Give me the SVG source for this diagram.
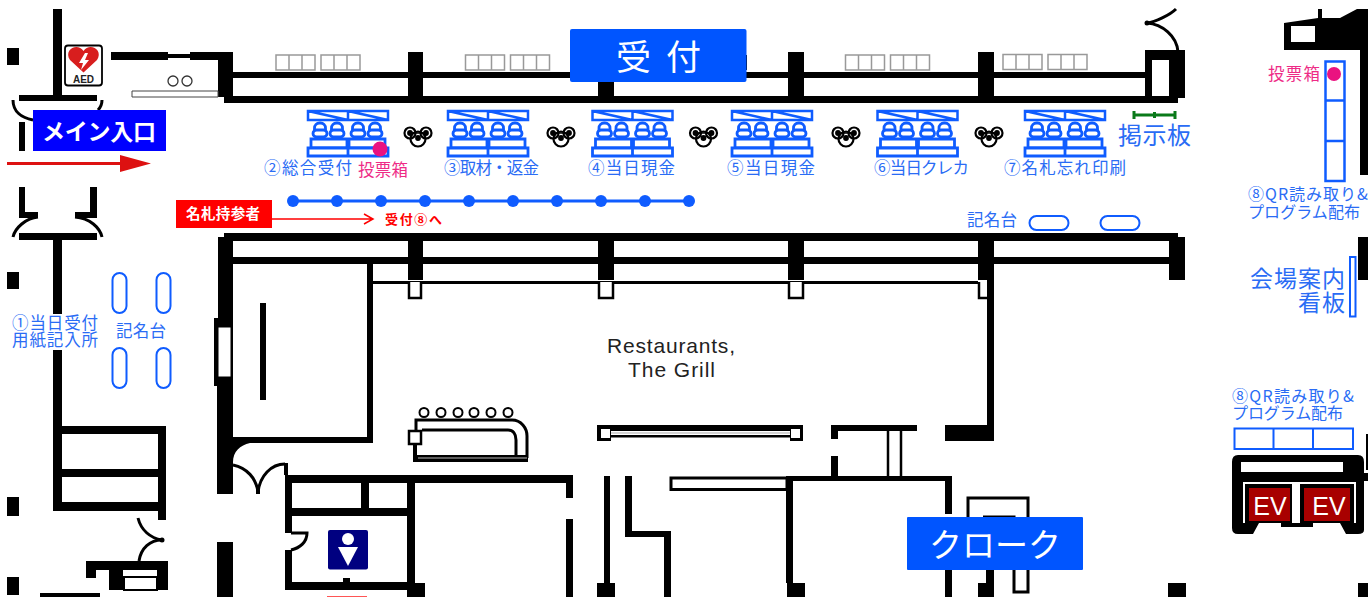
<svg xmlns="http://www.w3.org/2000/svg" xmlns:xlink="http://www.w3.org/1999/xlink" width="1368" height="597" viewBox="0 0 1368 597">
<style>
.t{font-family:"Noto Sans CJK JP","Noto Sans",sans-serif;fill:#2a6cf5;font-size:16.500px}
.s{font-size:16px}
.p{fill:#ee2b86}
.w{font-family:"Noto Sans CJK JP","Noto Sans",sans-serif;fill:#fff}
.k{fill:#000;stroke:none}
.l{fill:none;stroke:#000;stroke-width:3}
.b{fill:none;stroke:#0f5cff;stroke-width:2.500}
.g{fill:none;stroke:#999;stroke-width:1.500}
</style>
<defs>
<g id="desk">
<path class="b" d="M1 1H81V10H1ZM41 1V10M1 1L41 10M41 1L81 10"/>
<g fill="#fff" stroke="#0f5cff" stroke-width="2.800">
<path d="M7.500 21V18a5 5 0 0 1 5-5h1a5 5 0 0 1 5 5v3M24.500 21V18a5 5 0 0 1 5-5h1a5 5 0 0 1 5 5v3M45.500 21V18a5 5 0 0 1 5-5h1a5 5 0 0 1 5 5v3M62.500 21V18a5 5 0 0 1 5-5h1a5 5 0 0 1 5 5v3"/>
<rect x="6" y="20" width="14" height="7" rx="3.500"/><rect x="23" y="20" width="14" height="7" rx="3.500"/><rect x="44" y="20" width="14" height="7" rx="3.500"/><rect x="61" y="20" width="14" height="7" rx="3.500"/>
<path d="M4 29H40V38H4ZM42 29H78V38H42Z"/>
<path d="M1 38H41V46H1ZM41 38H81V46H41Z"/>
</g>
</g>
<g id="trio" fill="none" stroke="#000" stroke-width="2.200">
<circle cx="0" cy="5" r="7.500" fill="#fff"/>
<circle cx="-8" cy="-1" r="5.500"/><circle cx="8" cy="-1" r="5.500"/>
<path d="M-8-1H8" stroke-width="1.500"/>
<circle cx="0" cy="4" r="1.800" fill="#000"/>
<circle cx="-8" cy="-1" r="1.800" fill="#000"/><circle cx="8" cy="-1" r="1.800" fill="#000"/>
</g>
<g id="boxes" class="g"><path d="M0 0H39V15H0ZM13 0V15M26 0V15M45 0H84V15H45ZM58 0V15M71 0V15"/></g>
</defs>

<g id="walls">
<path class="k" d="M53 9H62V97H53ZM7 48H19V65H7ZM7 272H19V289H7ZM7 497H19V516H7ZM7 577H19V595H7Z"/>
<path class="k" d="M111 52H168V54H190V52H233V72H1145V50H1185V98H1178V103H224V97H218V60H190V58H168V60H111Z"/>
<path d="M233 78H408V96H233ZM423 78H598V96H423ZM614 78H788V96H614ZM804 78H978V96H804ZM994 78H1145V96H994Z" fill="#fff"/>
<path d="M1152 60H1169V96H1152Z" fill="#fff"/>
<path class="k" d="M408 52H423V96H408ZM788 52H804V96H788ZM978 52H994V96H978ZM598 80H614V96H598Z"/>
<path class="k" d="M740 55H747V70H740Z"/>
<path d="M132 91H218V97H132Z" fill="#fff" stroke="#444" stroke-width="1"/>
<circle cx="173" cy="81" r="5" fill="#fff" stroke="#333" stroke-width="1.300"/><circle cx="187" cy="81" r="5" fill="#fff" stroke="#333" stroke-width="1.300"/>
<use xlink:href="#boxes" x="276" y="55"/><use xlink:href="#boxes" x="465.500" y="55"/><use xlink:href="#boxes" x="845.500" y="55"/><use xlink:href="#boxes" x="1003" y="54.500"/>

<path class="k" d="M224 233H1178V237H1185V280H1169V264H994V441H945V425H987V264H373V443H250C240 445 233 452 233 462V494H217V325H214V318H218V237H224Z"/>
<path d="M233 241H408V257H233ZM423 241H598V257H423ZM614 241H788V257H614ZM804 241H978V257H804ZM994 241H1169V257H994Z" fill="#fff"/>
<path d="M233 264H367V437H233Z" fill="#fff"/>
<path class="k" d="M408 241H423V280H408ZM598 241H614V280H598ZM788 241H804V280H788ZM978 241H994V280H978Z"/>
<path class="k" d="M214 318H219V386H214ZM260 303H266V400H260Z"/>
<path d="M218 327H231V377H218Z" fill="#fff" stroke="#000" stroke-width="1"/>
<path class="k" d="M373 281H978V284H373Z"/>
<g fill="#fff" stroke="#000" stroke-width="2.500"><path d="M409 282V298H421V282M599 282V298H613V282M789 282V298H803V282M979 282V298H987"/></g>
<path class="k" d="M53 240H62V426H166V520H158V511H53ZM62 434V469H158V434ZM62 477V502H158V477Z" fill-rule="evenodd"/>
<path class="k" d="M284 463H288V475H573V498H566V483H292V533H285V475H284ZM285 550H292V582H407V483H415V583H425V597H407V590H285ZM292 508H407V516H292ZM361 483H369V508H361Z"/>
<path class="k" d="M343 578H350V583H343ZM566 519H573V597H566ZM604 476H610V583H615V597H597V583H604ZM625 476H632V531H671V597H664V537H625ZM786 476H952V514H945V481H793V583H805V597H787V583H786ZM831 425H917V431H838V439H831ZM831 456H838V476H831ZM217 542H233V597H217ZM945 570H952V597H945ZM986 570H994V597H978V583H986ZM1168 583H1186V597H1168ZM1358 583H1368V597H1358ZM1358 237H1368V280H1358Z"/>
<rect x="671" y="478" width="116" height="11.500" fill="#fff" stroke="#000" stroke-width="3"/>
<path d="M888 431V476M901 431V476" fill="none" stroke="#000" stroke-width="2.500"/>
<path d="M968 517V498H1028V517M983 517H1014V592H1028V570" fill="none" stroke="#000" stroke-width="3"/>
<path class="k" d="M86 561H168V590H157V570H123V590H109V570H96V578H86ZM40 593H100V597H40Z"/>
<path d="M124 577H157V590H124Z" fill="#fff" stroke="#000" stroke-width="2"/>
<path class="l" d="M233 465C247 468 256 478 258 492M285 464C271 464 260 476 258 492"/>
<path class="l" d="M138 518C141 530 150 538 162 540C150 540 141 548 139 561M291 533H307C307 542 300 548 291 550"/>
<path class="k" d="M256 488H260V494H256Z"/>
<circle cx="162" cy="540" r="2.500"/>
</g>

<g id="entrance-door">
<path class="k" d="M19 95H97V101H19ZM19 122H25V151H19ZM19 187H25V212H38V218H19ZM90 187H97V218H75V212H90ZM19 233H97V240H19Z"/>
<path class="l" d="M13 100C13 112 22 118 33 120M13 237C15 228 26 218 38 217M102 237C100 228 90 218 75 217M102 100C102 106 100 108 98 110"/>
</g>

<g id="top-right">
<path class="k" d="M1284 23L1318 18H1340L1357 9H1368V175H1360V50H1284Z"/>
<path d="M1291 26H1315V42H1291Z" fill="#fff"/>
<path class="k" d="M1318 9H1322V18H1318Z"/>
<path class="l" d="M1147 23C1155 22 1170 15 1176 9M1147 23C1162 24 1177 36 1178 52"/>
<circle cx="1147" cy="23" r="2.500"/>
</g>

<g id="aed">
<rect x="65" y="45.500" width="37" height="40" rx="3" fill="#fff" stroke="#000" stroke-width="1.800"/>
<path d="M83.500 72.500L70 60C63 49 78 42 83.500 51C89 42 104 49 97 60Z" fill="#d81e1e"/>
<path d="M85 53L79 63H83L81 70L89 60H85L88 53Z" fill="#fff"/>
<text x="83.500" y="83" text-anchor="middle" font-family="Liberation Sans,sans-serif" font-size="10" font-weight="700" fill="#222">AED</text>
</g>

<g id="counter">
<g fill="#fff" stroke="#000" stroke-width="2"><circle cx="424" cy="412.500" r="4.500"/><circle cx="441" cy="412.500" r="4.500"/><circle cx="458" cy="412.500" r="4.500"/><circle cx="474" cy="412.500" r="4.500"/><circle cx="491" cy="412.500" r="4.500"/><circle cx="508" cy="412.500" r="4.500"/></g>
<path class="l" d="M416 430V420H512C521 420 527 428 527 436V458M422 430H508C513 430 516 434 516 440V456"/>
<rect x="409" y="431" width="12" height="13" fill="#fff" stroke="#000" stroke-width="2.500"/>
<path class="k" d="M413 444H417V455H528V462H413Z"/>
<path d="M418 457.500H527V458.500H418Z" fill="#bbb"/>
</g>

<g id="long-counter">
<path class="k" d="M597 425H803V441H790V437.500H611V441H597ZM611 431V435H790V431Z" fill-rule="evenodd"/>
<rect x="601" y="429" width="9" height="9" fill="#fff"/><rect x="791" y="429" width="9" height="9" fill="#fff"/>
<path d="M611 432.500H790V433.500H611Z" fill="#aaa"/>
</g>

<g id="ev">
<path class="k" d="M1238 455H1358Q1364 455 1364 462V473H1368V481H1364V530Q1364 534 1358 534H1346L1340 523H1313V527H1281V523H1259L1253 534H1238Q1232 534 1232 528V462Q1232 455 1238 455Z"/>
<path d="M1241 462H1343V472H1241Z" fill="#fff"/>
<path d="M1243 482H1356V523H1243Z" fill="#fff"/>
<path class="k" d="M1245 484H1293V523H1245ZM1299 484H1354V523H1299Z"/>
<path d="M1292 484H1300V523H1292Z" fill="#fff"/>
<rect x="1249" y="488" width="41" height="33" fill="#a80000"/>
<rect x="1304" y="488" width="46" height="33" fill="#a80000"/>
<text x="1270" y="515" text-anchor="middle" font-family="Liberation Sans,sans-serif" font-size="25" fill="#fff">EV</text>
<text x="1329" y="515" text-anchor="middle" font-family="Liberation Sans,sans-serif" font-size="25" fill="#fff">EV</text>
<path d="M1367 434V470" fill="none" stroke="#000" stroke-width="2"/>
</g>

<g id="restroom">
<rect x="328" y="530" width="40" height="39.500" rx="2" fill="#000080"/>
<circle cx="348" cy="539" r="6" fill="#fff"/>
<path d="M338 547H358L348 566Z" fill="#fff"/>
<path d="M327 596H367V597H327Z" fill="#f55"/>
</g>

<g id="stations">
<use xlink:href="#desk" x="307" y="110"/><use xlink:href="#desk" x="447" y="110"/><use xlink:href="#desk" x="591.500" y="110"/><use xlink:href="#desk" x="731" y="110"/><use xlink:href="#desk" x="876.500" y="110"/><use xlink:href="#desk" x="1024" y="110"/>
<use xlink:href="#trio" x="418" y="134"/><use xlink:href="#trio" x="561" y="134"/><use xlink:href="#trio" x="703.500" y="134"/><use xlink:href="#trio" x="846" y="134"/><use xlink:href="#trio" x="989" y="134"/>
<circle cx="380" cy="149" r="7.500" fill="#ea1280"/>
</g>

<g id="queue">
<path d="M293 201H689" stroke="#0f5cff" stroke-width="3"/>
<g fill="#0f5cff"><circle cx="293" cy="201" r="6"/><circle cx="337" cy="201" r="6"/><circle cx="381" cy="201" r="6"/><circle cx="425" cy="201" r="6"/><circle cx="469" cy="201" r="6"/><circle cx="513" cy="201" r="6"/><circle cx="557" cy="201" r="6"/><circle cx="601" cy="201" r="6"/><circle cx="645" cy="201" r="6"/><circle cx="689" cy="201" r="6"/></g>
</g>

<g id="furniture" fill="#fff" stroke="#0f5cff" stroke-width="2">
<rect x="112.500" y="273" width="14" height="40" rx="7"/><rect x="156.500" y="273" width="14" height="40" rx="7"/>
<rect x="112.500" y="348" width="14" height="40" rx="7"/><rect x="156.500" y="348" width="14" height="40" rx="7"/>
<rect x="1029.500" y="216" width="39" height="14" rx="7"/><rect x="1100.500" y="216" width="39" height="14" rx="7"/>
<path d="M1325.500 61.500H1344.500V181H1325.500ZM1325.500 100.500H1344.500M1325.500 141H1344.500" fill="#fff" stroke-width="2.500"/>
<path d="M1350 257H1355.500V316.500H1350Z"/>
<path d="M1234.500 428.500H1353V449H1234.500ZM1273.500 428.500V449M1313 428.500V449"/>
<circle cx="1334" cy="74" r="7" fill="#ea1280" stroke="none"/>
<path d="M1134 115H1175M1134 111V119M1154.500 112V118M1175 111V119" stroke="#0a7a1a" stroke-width="3" fill="none"/>
</g>

<g id="signs">
<rect x="570" y="29" width="176.500" height="53" rx="2" fill="#0055ff"/>
<text class="w" x="616" y="70" font-size="35" letter-spacing="15">受付</text>
<rect x="33" y="110" width="133" height="41" fill="#0000ff"/>
<text class="w" x="42" y="140" font-size="23" font-weight="700" textLength="114">メイン入口</text>
<path d="M7 162H120V155L151 163.500L120 172V165H7Z" fill="#dd1111"/>
<rect x="176" y="200" width="96" height="28" fill="#ff0000"/>
<text class="w" x="186" y="219" font-size="14.500" font-weight="700" textLength="74">名札持参者</text>
<path d="M272 219H373M364 214L373 219L364 224" fill="none" stroke="#ff0000" stroke-width="1.500"/>
<text x="385" y="224" font-family="Noto Sans CJK JP,sans-serif" font-size="13" font-weight="700" fill="#ff0000" textLength="57">受付⑧へ</text>
<rect x="907" y="517" width="176" height="53" rx="1" fill="#0055ff"/>
<text class="w" x="995" y="557" text-anchor="middle" font-size="33">クローク</text>
</g>

<g id="labels">
<text class="t" x="264" y="174" textLength="88">②総合受付</text>
<text class="t p" x="358" y="176" textLength="50">投票箱</text>
<text class="t" x="444" y="174" textLength="95">③取材・返金</text>
<text class="t" x="588" y="174" textLength="87">④当日現金</text>
<text class="t" x="727" y="174" textLength="88">⑤当日現金</text>
<text class="t" x="874" y="174" textLength="95">⑥当日クレカ</text>
<text class="t" x="1004" y="174" textLength="122">⑦名札忘れ印刷</text>
<text class="t" x="1118" y="144" style="font-size:24px" textLength="73">掲示板</text>
<text class="t" x="967" y="226" textLength="50">記名台</text>
<text class="t" x="116" y="337" textLength="50">記名台</text>
<rect x="12" y="314" width="87" height="36" fill="#fff"/>
<text class="t" x="12" y="329" textLength="86">①当日受付</text>
<text class="t" x="12" y="346" textLength="86">用紙記入所</text>
<text class="t p" x="1268" y="80" textLength="52">投票箱</text>
<text class="t s" x="1248" y="200" textLength="120">⑧QR読み取り&amp;</text>
<text class="t s" x="1248" y="218" textLength="112">プログラム配布</text>
<text class="t" x="1250" y="287" style="font-size:23px" textLength="95">会場案内</text>
<text class="t" x="1298" y="311" style="font-size:23px" textLength="47">看板</text>
<text class="t s" x="1232" y="402" textLength="122">⑧QR読み取り&amp;</text>
<text class="t s" x="1232" y="419" textLength="111">プログラム配布</text>
<text x="607" y="353" font-family="Liberation Sans,sans-serif" font-size="21" fill="#222" textLength="128">Restaurants,</text>
<text x="628" y="377" font-family="Liberation Sans,sans-serif" font-size="21" fill="#222" textLength="87">The Grill</text>
</g>
</svg>
